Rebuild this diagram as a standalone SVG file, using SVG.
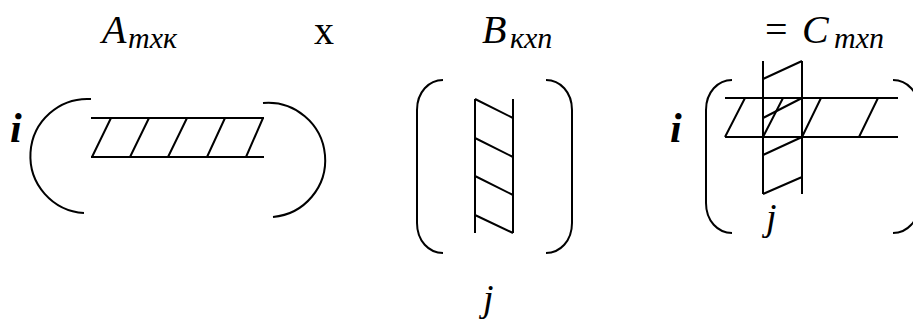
<svg xmlns="http://www.w3.org/2000/svg" width="913" height="320" viewBox="0 0 913 320">
<style>
.ln{fill:none;stroke:#000;stroke-width:2;stroke-linecap:butt}
.t{font-family:"Liberation Serif","Times New Roman",serif;font-style:italic;fill:#000}
.m{font-size:40px}
.s{font-size:30px}
.ix{font-size:42px;font-weight:bold}
.jx{font-size:38px}
.up{font-family:"Liberation Serif","Times New Roman",serif;fill:#000;font-size:40px}
</style>
<rect width="913" height="320" fill="#fff"/>
<g id="labels">
<text class="t m" x="102" y="43">A</text><text class="t s" x="128" y="48">mxк</text>
<text class="up" x="314" y="44">x</text>
<text class="up" x="765" y="43" font-size="44">=</text>
<text class="t m" x="482" y="43">B</text><text class="t s" x="510" y="48">кxn</text>
<text class="t m" x="802" y="43">C</text><text class="t s" x="834" y="48">mxn</text>
</g>
<g id="matrixA">
<text class="t ix" x="10" y="142">i</text>
<path class="ln" d="M91,99 A57,57 0 0 0 84,213"/>
<path class="ln" d="M263,103 A57,57 0 0 1 273,217"/>
<path class="ln" d="M91,118 H264 M91,157 H264 M111,118 L92,157 M149,118 L130,157 M187,118 L168,157 M225,118 L207,157 M263,118 L246,157"/>
</g>
<g id="matrixB">
<path class="ln" d="M443,80 C429,80 417,92 417,110 L417,223 C417,241 429,253 443,253"/>
<path class="ln" d="M546,80 C560,80 572,92 572,110 L572,223 C572,241 560,253 546,253"/>
<path class="ln" d="M475,99 V233 M513,99 V233 M475,99 L513,118 M475,138 L513,157 M475,176 L513,195 M475,215 L513,233"/>
<text class="t jx" x="483" y="311">j</text>
</g>
<g id="matrixC">
<text class="t ix" x="670" y="142">i</text>
<path class="ln" d="M732,80 C718,80 706,92 706,110 L706,203 C706,221 718,233 732,233"/>
<path class="ln" d="M893,80 C907,80 919,92 919,110 L919,203 C919,221 907,233 893,233"/>
<path class="ln" d="M725,98 H898 M725,137 H898 M745,98 L725,137 M783,98 L763,137 M821,98 L802,137 M878,98 L859,137"/>
<path class="ln" d="M763,61 V194 M802,61 V194 M763,79 L802,61 M763,118 L802,98 M763,155 L802,137 M763,194 L802,177"/>
<text class="t jx" x="766" y="230">j</text>
</g>
<g id="connectors"/>
</svg>
